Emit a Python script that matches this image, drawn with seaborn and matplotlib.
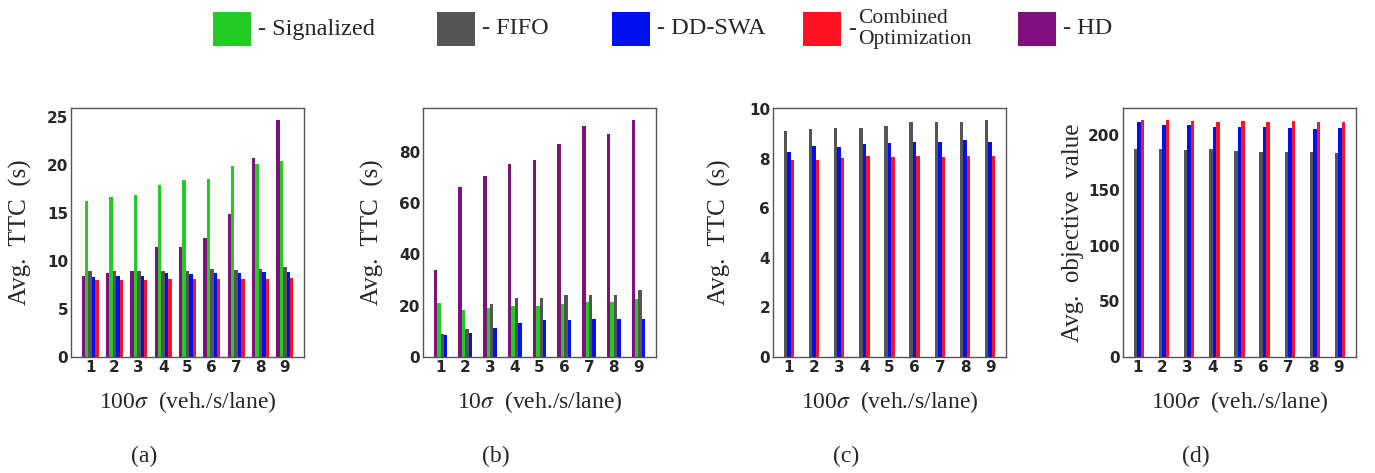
import numpy as np
import pandas as pd
import matplotlib
matplotlib.use("Agg")
import matplotlib.pyplot as plt
import seaborn as sns
from matplotlib.patches import Rectangle

# ---------------- data ----------------
sigma_levels = [1, 2, 3, 4, 5, 6, 7, 8, 9]

# (a) Avg. TTC (s), 100 sigma
a_hd = [8.4, 8.75, 9.0, 11.45, 11.5, 12.4, 14.85, 20.7, 24.7]
a_signalized = [16.2, 16.65, 16.85, 17.95, 18.4, 18.55, 19.9, 20.15, 20.4]
a_fifo = [9.0, 8.95, 8.95, 8.95, 9.0, 9.15, 9.1, 9.15, 9.35]
a_ddswa = [8.3, 8.4, 8.45, 8.75, 8.65, 8.75, 8.75, 8.85, 8.85]
a_combined = [8.0, 8.0, 8.05, 8.1, 8.1, 8.1, 8.1, 8.15, 8.25]

# (b) Avg. TTC (s), 10 sigma
b_hd = [34.0, 66.3, 70.5, 75.2, 76.7, 83.0, 90.2, 87.1, 92.5]
b_signalized = [20.9, 18.4, 19.0, 20.0, 19.9, 20.7, 21.6, 21.4, 22.6]
b_fifo = [9.15, 10.8, 20.7, 23.0, 23.0, 24.3, 24.2, 24.3, 26.0]
b_ddswa = [8.6, 9.4, 11.4, 13.3, 14.4, 14.4, 14.9, 14.8, 14.9]

# (c) Avg. TTC (s), 100 sigma
c_fifo = [9.13, 9.21, 9.25, 9.24, 9.34, 9.5, 9.49, 9.49, 9.58]
c_ddswa = [8.27, 8.52, 8.47, 8.62, 8.63, 8.67, 8.7, 8.78, 8.69]
c_combined = [7.94, 7.94, 8.02, 8.1, 8.06, 8.1, 8.06, 8.12, 8.12]

# (d) Avg. objective value, 100 sigma
d_fifo = [187.6, 187.0, 186.4, 187.0, 185.8, 184.6, 184.6, 184.6, 184.0]
d_ddswa = [212.1, 209.0, 209.4, 207.6, 207.2, 206.9, 206.6, 205.7, 206.3]
d_combined = [213.6, 213.6, 212.7, 211.8, 212.4, 211.8, 212.4, 211.5, 211.5]

colors = {
    "HD": "#80107f",
    "Signalized": "#22cc22",
    "FIFO": "#555555",
    "DD-SWA": "#0010ee",
    "Combined Optimization": "#ff1222",
}

legend_order = ["Signalized", "FIFO", "DD-SWA", "Combined Optimization", "HD"]


def long_df(series):
    rows = []
    for name, vals in series.items():
        for s, v in zip(sigma_levels, vals):
            rows.append({"sigma": s, "method": name, "value": v})
    return pd.DataFrame(rows)


panels = [
    dict(series={"HD": a_hd, "Signalized": a_signalized, "FIFO": a_fifo,
                 "DD-SWA": a_ddswa, "Combined Optimization": a_combined},
         order=["HD", "Signalized", "FIFO", "DD-SWA", "Combined Optimization"],
         ylabel="Avg.  TTC  (s)", xlabel="100$\\sigma$  (veh./s/lane)", tag="(a)", labelpad=11),
    dict(series={"HD": b_hd, "Signalized": b_signalized, "FIFO": b_fifo, "DD-SWA": b_ddswa},
         order=["HD", "Signalized", "FIFO", "DD-SWA"],
         ylabel="Avg.  TTC  (s)", xlabel="10$\\sigma$  (veh./s/lane)", tag="(b)", labelpad=11),
    dict(series={"FIFO": c_fifo, "DD-SWA": c_ddswa, "Combined Optimization": c_combined},
         order=["FIFO", "DD-SWA", "Combined Optimization"],
         ylabel="Avg.  TTC  (s)", xlabel="100$\\sigma$  (veh./s/lane)", tag="(c)", labelpad=13),
    dict(series={"FIFO": d_fifo, "DD-SWA": d_ddswa, "Combined Optimization": d_combined},
         order=["Signalized", "FIFO", "DD-SWA", "Combined Optimization"],
         ylabel="Avg.  objective  value", xlabel="100$\\sigma$  (veh./s/lane)", tag="(d)", labelpad=3),
]

# ---------------- style ----------------
sns.set_theme(style="white")
plt.rcParams["font.family"] = ["DejaVu Sans"]
plt.rcParams["mathtext.fontset"] = "stix"
plt.rcParams["axes.edgecolor"] = "#555555"
plt.rcParams["axes.linewidth"] = 1.0

serif = ["Liberation Serif", "DejaVu Serif"]
bar_w = 0.14

fig = plt.figure(figsize=(13.75, 4.73), dpi=100)
lefts = [71, 423, 773, 1123]
W, H = 1375.0, 473.0

for left, p in zip(lefts, panels):
    ax = fig.add_axes([left / W, 1 - 357 / H, 233 / W, 249 / H])
    df = long_df(p["series"])
    sns.barplot(data=df, x="sigma", y="value", hue="method", hue_order=p["order"],
                palette=colors, width=bar_w * len(p["order"]), saturation=1,
                linewidth=0, errorbar=None, legend=False, ax=ax)
    ax.autoscale(enable=True, axis="x")
    ax.margins(x=0.05, y=0.05)
    ax.autoscale_view()
    ax.set_xlabel(p["xlabel"], fontsize=17, family=serif, labelpad=10)
    ax.set_ylabel(p["ylabel"], fontsize=18, family=serif, labelpad=p["labelpad"])
    ax.tick_params(axis="both", length=0, labelsize=11)
    ax.tick_params(axis="x", pad=2.5)
    ax.tick_params(axis="y", pad=2)
    for t in ax.get_xticklabels() + ax.get_yticklabels():
        t.set_fontweight("bold")
    for sp in ax.spines.values():
        sp.set_visible(True)
        sp.set_color("#555555")
    cx = (left + 116 - 43) / W
    fig.text(cx, 1 - 456 / H, p["tag"], ha="center", va="center", fontsize=17, family=serif)

# ---------------- legend (top) ----------------
patch_left = [213, 437, 612, 803, 1018]
for x0, name in zip(patch_left, legend_order):
    fig.add_artist(Rectangle((x0 / W, 1 - 46 / H), 38 / W, 34 / H,
                             transform=fig.transFigure, facecolor=colors[name],
                             edgecolor="none"))
    tx = (x0 + 45) / W
    ty = 1 - 29 / H
    if name == "Combined Optimization":
        fig.text(tx, ty, "-", ha="left", va="center", fontsize=17, family=serif)
        fig.text((x0 + 55) / W, ty, "Combined\nOptimization", ha="left", va="center",
                 fontsize=15.5, family=serif, linespacing=1.2)
    else:
        fig.text(tx, ty, "- " + name, ha="left", va="center", fontsize=17.5, family=serif)

fig.savefig("out.png", dpi=100)
